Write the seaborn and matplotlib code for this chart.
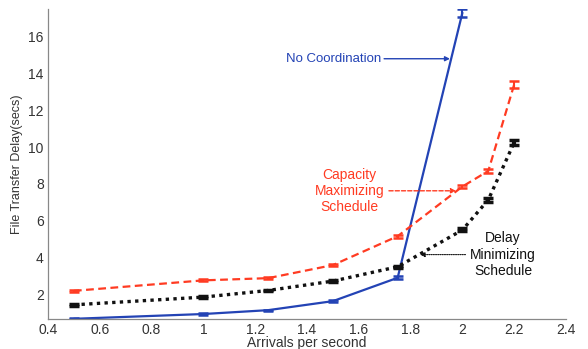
import numpy as np
import pandas as pd
import matplotlib
matplotlib.use("Agg")
import matplotlib.pyplot as plt
import seaborn as sns

# data
x_nc = [0.5, 1.0, 1.25, 1.5, 1.75, 2.0]
y_nc = [0.66, 0.92, 1.13, 1.62, 2.89, 17.3]
e_nc = [0.03, 0.03, 0.03, 0.05, 0.08, 0.22]

x_cap = [0.5, 1.0, 1.25, 1.5, 1.75, 2.0, 2.1, 2.2]
y_cap = [2.18, 2.75, 2.87, 3.58, 5.15, 7.85, 8.7, 13.4]
e_cap = [0.05, 0.05, 0.05, 0.06, 0.08, 0.1, 0.1, 0.18]

x_del = [0.5, 1.0, 1.25, 1.5, 1.75, 2.0, 2.1, 2.2]
y_del = [1.42, 1.84, 2.2, 2.71, 3.49, 5.49, 7.13, 10.25]
e_del = [0.05, 0.05, 0.05, 0.05, 0.06, 0.08, 0.1, 0.12]

xticks = [0.4, 0.6, 0.8, 1.0, 1.2, 1.4, 1.6, 1.8, 2.0, 2.2, 2.4]
xtick_labels = ["0.4", "0.6", "0.8", "1", "1.2", "1.4", "1.6", "1.8", "2", "2.2", "2.4"]
yticks = [2, 4, 6, 8, 10, 12, 14, 16]

BLUE = "#2343b5"
RED = "#ff3b22"
BLACK = "#111111"
GREY = "#333333"

sns.set_style("white")
plt.rcParams['font.family'] = ['Liberation Sans', 'DejaVu Sans']

fig = plt.figure(figsize=(5.88, 3.49), dpi=100)
ax = fig.add_axes([0.0816, 0.086, 0.881, 0.888])

df_nc = pd.DataFrame({"x": x_nc, "y": y_nc})
df_cap = pd.DataFrame({"x": x_cap, "y": y_cap})
df_del = pd.DataFrame({"x": x_del, "y": y_del})

sns.lineplot(data=df_nc, x="x", y="y", ax=ax, color=BLUE, lw=1.6)
sns.lineplot(data=df_cap, x="x", y="y", ax=ax, color=RED, lw=1.6, linestyle=(0, (3.5, 2)))
sns.lineplot(data=df_del, x="x", y="y", ax=ax, color=BLACK, lw=2.4, linestyle=(0, (1, 1.3)))

ax.errorbar(x_nc, y_nc, yerr=e_nc, fmt="none", ecolor=BLUE, capsize=3.5, capthick=1.8, elinewidth=1.5)
ax.errorbar(x_cap, y_cap, yerr=e_cap, fmt="none", ecolor=RED, capsize=3.5, capthick=1.8, elinewidth=1.5)
ax.errorbar(x_del, y_del, yerr=e_del, fmt="none", ecolor=BLACK, capsize=3.5, capthick=2.5, elinewidth=3)

ax.set_xlim(0.4, 2.4)
ax.set_ylim(0.65, 17.5)
ax.set_xticks(xticks)
ax.set_xticklabels(xtick_labels)
ax.set_yticks(yticks)
ax.tick_params(direction="in", length=3, color="#888888", labelsize=10, labelcolor=GREY, pad=3)
for s in ["top", "right"]:
    ax.spines[s].set_visible(False)
for s in ["left", "bottom"]:
    ax.spines[s].set_color("#888888")
    ax.spines[s].set_linewidth(0.9)

ax.set_xlabel("Arrivals per second", fontsize=10, color=GREY, labelpad=-0.5)
ax.set_ylabel("File Transfer Delay(secs)", fontsize=9, color=GREY, labelpad=4)

# annotations
ax.annotate("No Coordination", xy=(1.952, 14.8), xytext=(1.685, 14.8),
            color=BLUE, fontsize=9.5, va="center", ha="right",
            arrowprops=dict(arrowstyle="-|>", color=BLUE, lw=1.0, mutation_scale=7,
                            shrinkA=0, shrinkB=0))
ax.annotate("Capacity\nMaximizing\nSchedule", xy=(1.975, 7.62), xytext=(1.564, 7.62),
            color=RED, fontsize=10, va="center", ha="center", linespacing=1.2,
            arrowprops=dict(arrowstyle="-|>", color=RED, lw=1.0, ls=(0, (3, 1.5)),
                            mutation_scale=7, shrinkA=1, shrinkB=0,
                            relpos=(1.0, 0.5)))
ax.annotate("Delay\nMinimizing\nSchedule", xy=(1.836, 4.15), xytext=(2.157, 4.15),
            color=BLACK, fontsize=10, va="center", ha="center", linespacing=1.2,
            arrowprops=dict(arrowstyle="-|>", color=BLACK, lw=0.8, ls=(0, (1, 1)),
                            mutation_scale=7, shrinkA=1, shrinkB=0,
                            relpos=(0.0, 0.5)))

fig.savefig("out.png", dpi=100)
